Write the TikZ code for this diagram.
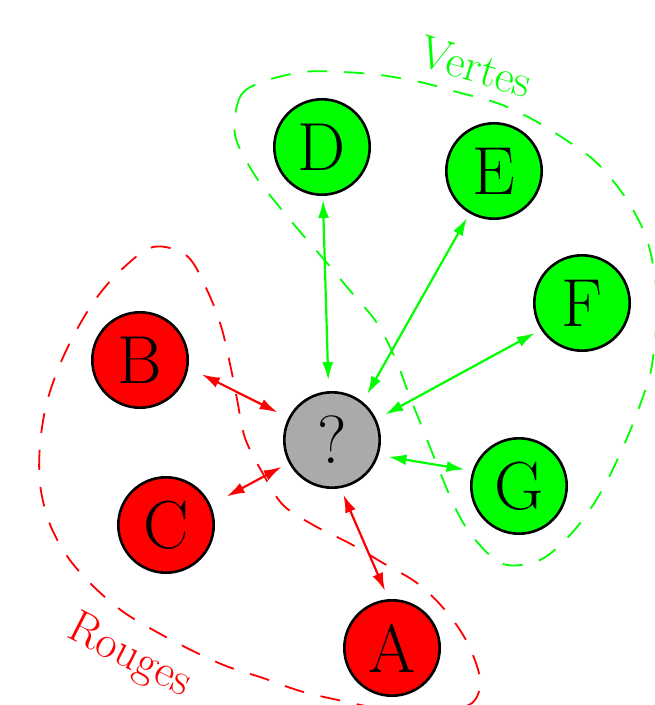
\documentclass[tikz,border=0pt]{standalone}
\usetikzlibrary{arrows.meta}
\definecolor{vert}{RGB}{0,255,0}
\definecolor{rouge}{RGB}{255,0,0}
\definecolor{gris}{RGB}{170,170,170}
\begin{document}
\begin{tikzpicture}[x=0.5pt,y=-0.5pt,
  vnode/.style={circle, draw=black, line width=1.3pt, minimum size=47.7pt, inner sep=0pt, font=\fontsize{34}{40}\selectfont},
  gnode/.style={vnode, fill=vert},
  rnode/.style={vnode, fill=rouge},
  qnode/.style={vnode, fill=gris},
  darr/.style={{Latex[length=9pt,width=5.5pt]}-{Latex[length=9pt,width=5.5pt]}, line width=1.1pt},
  garr/.style={darr, draw=vert},
  rarr/.style={darr, draw=rouge},
  zone/.style={dash pattern=on 10pt off 8.5pt, line width=0.9pt},
  gzone/.style={zone, draw=vert},
  rzone/.style={zone, draw=rouge},
  lab/.style={inner sep=0pt, font=\fontsize{23}{27}\selectfont}
]
\useasboundingbox (0,0) rectangle (654,705);

% zones
\draw[gzone] plot[smooth cycle, tension=0.55] coordinates {
 (235,135) (240,97) (262,82) (303,72) (342,72) (380,75) (420,82) (457,92)
 (497,103) (530,118) (563,138) (597,163) (627,200) (648,243) (657,300)
 (652,365) (640,405) (627,438) (610,475) (593,505) (570,535) (540,560)
 (503,564) (473,537) (453,503) (424,432) (408,392) (396,360) (377,323)
 (352,293) (327,263) (302,234) (277,204) (254,174)};
\draw[rzone] plot[smooth cycle, tension=0.55] coordinates {
 (153,247) (187,256) (207,290) (221,326) (230,364) (237,399) (245,438)
 (262,472) (283,505) (315,526) (349,543) (383,563) (417,583) (445,610)
 (467,642) (480,679) (472,703) (440,710) (380,708) (338,700) (300,691)
 (263,678) (226,666) (191,650) (155,631) (122,611) (92,585) (67,556)
 (49,522) (40,484) (40,445) (46,406) (58,369) (75,333) (95,300) (120,271)};

% labels
\node[lab, text=vert, rotate=-17] (lv) at (476,67) {Vertes};
\node[lab, text=rouge, rotate=-27] (lr) at (129,657) {Rouges};

% nodes
\node[qnode] (q) at (332,440) {?};
\node[gnode] (d) at (322,147) {D};
\node[gnode] (e) at (494,171) {E};
\node[gnode] (f) at (582,303) {F};
\node[gnode] (g) at (519,486) {G};
\node[rnode] (b) at (140,360) {B};
\node[rnode] (c) at (166,525) {C};
\node[rnode] (a) at (392,648) {A};

% connectors
\draw[garr, shorten <=5.5pt, shorten >=2pt] (q.94) -- (d.-89);
\draw[garr, shorten <=4.5pt, shorten >=2.5pt] (q.51) -- (e.-120);
\draw[garr, shorten <=5pt, shorten >=3.5pt] (q.25) -- (f.-147);
\draw[garr, shorten <=5pt, shorten >=4pt] (q.-18) -- (g.162);
\draw[rarr, shorten <=6pt, shorten >=7.5pt] (q.153) -- (b.-9);
\draw[rarr, shorten <=4pt, shorten >=9pt] (q.208) -- (c.24);
\draw[rarr, shorten <=3.5pt, shorten >=4.5pt] (q.-80) -- (a.94);
\end{tikzpicture}
\end{document}
